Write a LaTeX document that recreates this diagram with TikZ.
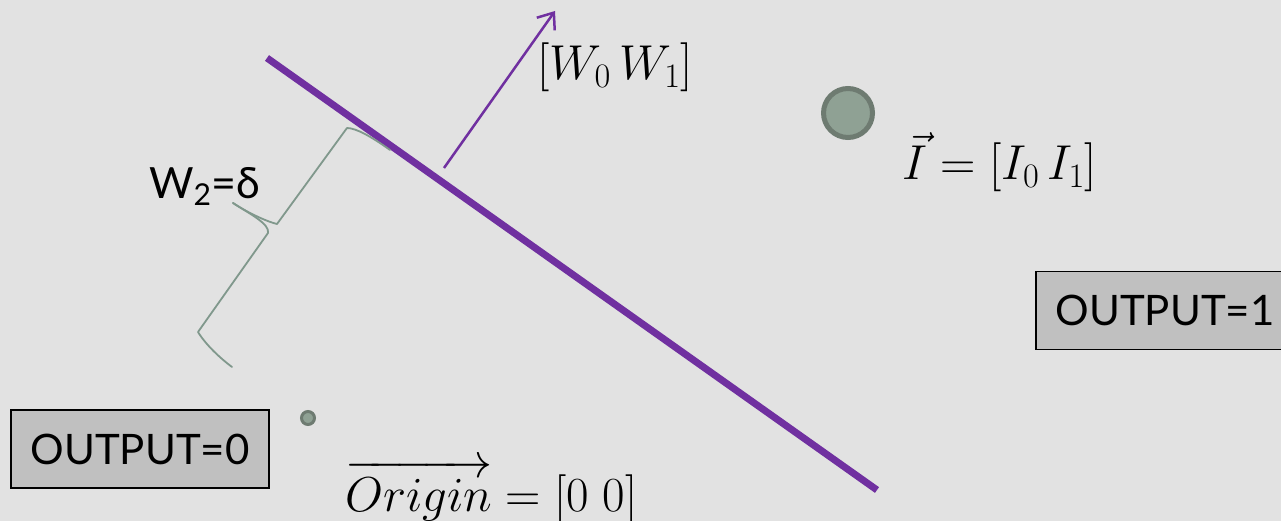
\RequirePackage{fix-cm}
\documentclass[tikz,border=0pt]{standalone}
\usepackage{amsmath}
\usepackage{fontspec}
\setmainfont{Lato}
\usetikzlibrary{arrows.meta}
\definecolor{bg}{RGB}{226,226,226}
\definecolor{purp}{RGB}{112,48,160}
\definecolor{boxgray}{RGB}{192,192,192}
\definecolor{dotfill}{RGB}{143,161,148}
\definecolor{dotedge}{RGB}{110,123,113}
\definecolor{bracecol}{RGB}{128,152,140}
\newcommand\bigtxt{\fontsize{42}{50}\selectfont}
\newcommand\mathtxt{\fontsize{49}{56}\selectfont}
\newcommand\wtxt{\fontsize{43}{50}\selectfont}
\tikzset{
  outbox/.style={draw=black, line width=1.5pt, fill=boxgray, minimum width=258pt, minimum height=78pt, inner sep=0pt, font=\bigtxt},
  dot/.style={circle, draw=dotedge, fill=dotfill, inner sep=0pt},
  sepline/.style={purp, line width=7pt},
  wvec/.style={purp, line width=2.5pt, -{Straight Barb[length=14pt,width=22pt]}},
  lab/.style={anchor=base west, inner sep=0pt, font=\mathtxt},
  bracepath/.style={bracecol, line width=1.8pt, line join=round, line cap=round}
}
\begin{document}
\begin{tikzpicture}[x=1pt, y=-1pt]
\fill[bg] (0,0) rectangle (1281,521);
\useasboundingbox (0,0) rectangle (1281,521);
\clip (0,0) rectangle (1281,521);
% separating line and weight vector
\coordinate (L1) at (267,58);
\coordinate (L2) at (877,490);
\draw[sepline] (L1) -- (L2);
\coordinate (wbase) at (444,168);
\coordinate (wtip) at (555,11);
\draw[wvec] (wbase) -- (wtip);
% brace
\draw[bracepath] (390,150) .. controls (372,137) and (356,128) .. (347,128)
  -- (277,224) .. controls (268,222) and (248,213) .. (233,203);
\draw[bracepath] (233,203) .. controls (250,214) and (270,224) .. (268,233)
  -- (198,332) .. controls (206,345) and (220,358) .. (232,367);
% points
\node[dot, minimum size=49pt, line width=5pt] (I) at (848,113) {};
\node[dot, minimum size=13pt, line width=3pt] (O) at (308,418) {};
% labels
\node[lab] (wlab) at (537,80) {$[W_0\,W_1]$};
\node[lab] (ilab) at (902,180) {$\vec{I}=[I_0\,I_1]$};
\node[lab] (olab) at (345,511) {$\overrightarrow{Origin}=[0\;0]$};
\node[lab, font=\wtxt] (w2) at (149,199) {W\textsubscript{2}=δ};
% output boxes
\node[outbox] (out0) at (140,449) {OUTPUT=0};
\node[outbox] (out1) at (1165,310.5) {OUTPUT=1};
\end{tikzpicture}
\end{document}
